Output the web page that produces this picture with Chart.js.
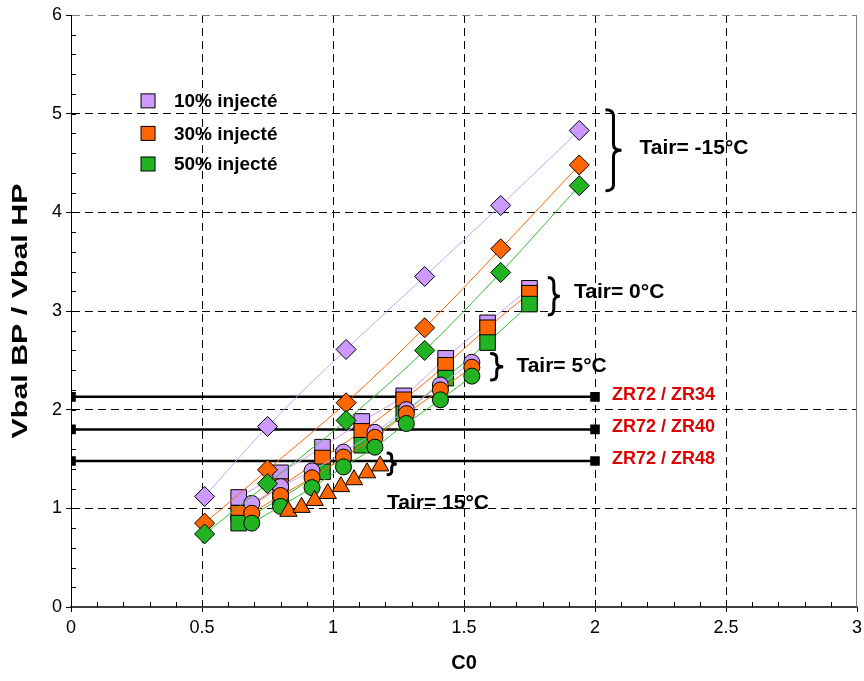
<!DOCTYPE html>
<html>
<head>
<meta charset="utf-8">
<script src="https://cdn.jsdelivr.net/npm/chart.js@4"></script>
<style>
  html, body { margin: 0; padding: 0; background: #fff; }
  #wrap { width: 864px; height: 681px; }
</style>
</head>
<body>
<div id="wrap"><canvas id="chart" width="864" height="681"></canvas></div>
<script>
/* ---- data ---- */
// Tair = -15°C (diamonds)
var diamondX   = [0.51, 0.75, 1.05, 1.35, 1.64, 1.94];
var diamond10  = [1.12, 1.83, 2.61, 3.35, 4.07, 4.83];
var diamond30  = [0.85, 1.39, 2.07, 2.83, 3.63, 4.48];
var diamond50  = [0.74, 1.25, 1.89, 2.60, 3.39, 4.27];
// Tair = 0°C (squares)
var squareX    = [0.64, 0.80, 0.96, 1.11, 1.27, 1.43, 1.59, 1.75];
var square10   = [1.11, 1.36, 1.62, 1.88, 2.14, 2.52, 2.88, 3.23];
var square30   = [0.95, 1.22, 1.51, 1.78, 2.10, 2.45, 2.83, 3.18];
var square50   = [0.85, 1.10, 1.37, 1.64, 1.96, 2.32, 2.68, 3.07];
// Tair = 5°C (circles)
var circleX    = [0.69, 0.80, 0.92, 1.04, 1.16, 1.28, 1.41, 1.53];
var circle10   = [1.05, 1.22, 1.38, 1.57, 1.77, 2.00, 2.25, 2.48];
var circle30   = [0.95, 1.13, 1.31, 1.52, 1.72, 1.96, 2.20, 2.43];
var circle50   = [0.85, 1.02, 1.21, 1.42, 1.62, 1.86, 2.10, 2.34];
// Tair = 15°C (triangles)
var triangleX  = [0.83, 0.88, 0.93, 0.98, 1.03, 1.08, 1.13, 1.18];
var triangle30 = [0.97, 1.01, 1.08, 1.15, 1.22, 1.29, 1.36, 1.43];
// ratio reference lines
var zrLabels   = ['ZR72 / ZR34', 'ZR72 / ZR40', 'ZR72 / ZR48'];
var zrLevels   = [2.13, 1.80, 1.48];
var zrRangeX   = [0, 2];
// legend
var seriesNames = ['10% injecté', '30% injecté', '50% injecté'];
// axes
var xRange = [0, 3], xStep = 0.5, xMinor = 0.1;
var yRange = [0, 6], yStep = 1,   yMinor = 0.2;

/* ---- styling ---- */
var FILL = ['#CC99FF', '#FF6600', '#22B322'];
var LINE = ['#C9A2FF', '#FF6600', '#33BB33'];
var FONT = "'Liberation Sans', Arial, sans-serif";

function series(label, xs, ys, k, style, radius, order, showLine) {
  return {
    label: label,
    data: xs.map(function (x, i) { return { x: x, y: ys[i] }; }),
    showLine: showLine,
    borderColor: LINE[k],
    borderWidth: 1,
    cubicInterpolationMode: 'monotone',
    pointStyle: style,
    pointRadius: radius,
    pointHoverRadius: radius,
    pointBackgroundColor: FILL[k],
    pointBorderColor: '#000',
    pointBorderWidth: 1,
    order: order,
  };
}

var datasets = [];
// reference lines first (drawn underneath)
zrLevels.forEach(function (v, i) {
  datasets.push({
    label: zrLabels[i],
    data: zrRangeX.map(function (x) { return { x: x, y: v }; }),
    showLine: true,
    borderColor: '#000',
    borderWidth: 2.5,
    pointStyle: 'rect',
    pointRadius: 5,
    pointBackgroundColor: '#000',
    pointBorderColor: '#000',
    order: 100,
  });
});
var sq = [square10, square30, square50];
var ci = [circle10, circle30, circle50];
var di = [diamond10, diamond30, diamond50];
for (var k = 0; k < 3; k++) {
  datasets.push(series(seriesNames[k], squareX, sq[k], k, 'rect', 11, 50 - k, true));
  datasets.push(series(seriesNames[k], circleX, ci[k], k, 'circle', 8, 40 - k, true));
  datasets.push(series(seriesNames[k], diamondX, di[k], k, 'rectRot', 10, 30 - k, true));
}
datasets.push(series(seriesNames[1], triangleX, triangle30, 1, 'triangle', 10, 10, false));

/* ---- annotations, braces, minor ticks, legend ---- */
function brace(ctx, x, y1, y2, w) {
  var ym = (y1 + y2) / 2, r = Math.min(6, (y2 - y1) / 6), xm = x + w / 2;
  ctx.beginPath();
  ctx.moveTo(x, y1);
  ctx.quadraticCurveTo(xm, y1, xm, y1 + r);
  ctx.lineTo(xm, ym - r);
  ctx.quadraticCurveTo(xm, ym, x + w, ym);
  ctx.quadraticCurveTo(xm, ym, xm, ym + r);
  ctx.lineTo(xm, y2 - r);
  ctx.quadraticCurveTo(xm, y2, x, y2);
  ctx.stroke();
}

var decor = {
  id: 'decor',
  beforeDatasetsDraw: function (chart) {
    var ctx = chart.ctx, xs = chart.scales.x, ys = chart.scales.y, a = chart.chartArea;
    ctx.save();
    // right border solid grey
    ctx.strokeStyle = '#808080';
    ctx.lineWidth = 1;
    ctx.beginPath();
    ctx.moveTo(a.right - 0.5, a.top);
    ctx.lineTo(a.right - 0.5, a.bottom);
    ctx.stroke();
    // minor ticks
    ctx.strokeStyle = '#000';
    ctx.beginPath();
    for (var v = xRange[0] + xMinor; v < xRange[1] - 1e-6; v += xMinor) {
      var px = Math.round(xs.getPixelForValue(v)) + 0.5;
      ctx.moveTo(px, a.bottom);
      ctx.lineTo(px, a.bottom - 5);
    }
    for (var w = yRange[0] + yMinor; w < yRange[1] - 1e-6; w += yMinor) {
      var py = Math.round(ys.getPixelForValue(w)) + 0.5;
      ctx.moveTo(a.left, py);
      ctx.lineTo(a.left + 5, py);
    }
    ctx.stroke();
    // y axis title, stretched along its length like the original
    ctx.fillStyle = '#000';
    ctx.font = 'bold 22px ' + FONT;
    ctx.textAlign = 'center';
    ctx.textBaseline = 'middle';
    ctx.translate(21, (a.top + a.bottom) / 2);
    ctx.rotate(-Math.PI / 2);
    ctx.scale(1.38, 1);
    ctx.fillText('Vbal BP / Vbal HP', 0, 0);
    ctx.restore();
  },
  afterDatasetsDraw: function (chart) {
    var ctx = chart.ctx, xs = chart.scales.x, ys = chart.scales.y;
    function X(v) { return xs.getPixelForValue(v); }
    function Y(v) { return ys.getPixelForValue(v); }
    ctx.save();
    // legend
    var legY = [5.13, 4.80, 4.49];
    ctx.textBaseline = 'middle';
    ctx.textAlign = 'left';
    ctx.font = 'bold 19px ' + FONT;
    seriesNames.forEach(function (name, i) {
      var cx = X(0.294), cy = Y(legY[i]);
      ctx.fillStyle = FILL[i];
      ctx.fillRect(cx - 7, cy - 7, 14, 14);
      ctx.strokeStyle = '#000';
      ctx.lineWidth = 1;
      ctx.strokeRect(cx - 7, cy - 7, 14, 14);
      ctx.fillStyle = '#000';
      ctx.fillText(name, X(0.393), cy + 1);
    });
    // ratio labels
    ctx.fillStyle = '#E00000';
    ctx.font = 'bold 18px ' + FONT;
    zrLabels.forEach(function (t, i) {
      ctx.fillText(t, X(2.065), Y(zrLevels[i]) - 2);
    });
    // temperature groups
    ctx.fillStyle = '#000';
    ctx.strokeStyle = '#000';
    ctx.lineWidth = 3;
    ctx.font = 'bold 21px ' + FONT;
    ctx.fillText('Tair= -15°C', X(2.17), Y(4.65));
    brace(ctx, X(2.04), Y(5.04), Y(4.22), 16);
    ctx.fillText('Tair= 0°C', X(1.92), Y(3.19));
    brace(ctx, X(1.82), Y(3.34), Y(2.96), 12);
    ctx.fillText('Tair= 5°C', X(1.70), Y(2.44));
    brace(ctx, X(1.60), Y(2.57), Y(2.30), 13);
    ctx.fillText('Tair= 15°C', X(1.206), Y(1.05));
    brace(ctx, X(1.205), Y(1.56), Y(1.34), 10);
    ctx.restore();
  },
};

new Chart(document.getElementById('chart'), {
  type: 'scatter',
  data: { datasets: datasets },
  options: {
    responsive: false,
    animation: false,
    devicePixelRatio: 1,
    layout: { autoPadding: false, padding: { top: 15, right: 7, left: 0, bottom: 0 } },
    plugins: { legend: { display: false }, tooltip: { enabled: false } },
    scales: {
      x: {
        type: 'linear',
        min: xRange[0], max: xRange[1],
        ticks: {
          stepSize: xStep, color: '#000', padding: 5, font: { family: FONT, size: 18 },
          callback: function (v) { return String(v); },
        },
        grid: {
          color: function (c) { return c.tick && c.tick.value === xRange[1] ? 'rgba(0,0,0,0)' : '#000'; },
          lineWidth: 1, tickLength: 5, tickColor: '#000', tickBorderDash: [],
        },
        border: { color: '#404040', width: 2, dash: [8, 5] },
        title: { display: true, text: 'C0', color: '#000', font: { family: FONT, size: 20, weight: 'bold' }, padding: { top: 0, bottom: 6 } },
        afterFit: function (s) { s.height = 74; s.paddingLeft = 0; s.paddingRight = 0; },
      },
      y: {
        type: 'linear',
        min: yRange[0], max: yRange[1],
        ticks: { stepSize: yStep, color: '#000', padding: 4, font: { family: FONT, size: 18 } },
        grid: {
          color: function (c) { return c.tick && c.tick.value === yRange[1] ? '#808080' : '#000'; },
          lineWidth: 1, tickLength: 5, tickColor: '#000', tickBorderDash: [],
        },
        border: { color: '#000', width: 1, dash: [8, 5] },
        title: { display: false },
        afterFit: function (s) { s.width = 71; s.paddingTop = 0; s.paddingBottom = 0; },
      },
    },
  },
  plugins: [decor],
});
</script>
</body>
</html>
